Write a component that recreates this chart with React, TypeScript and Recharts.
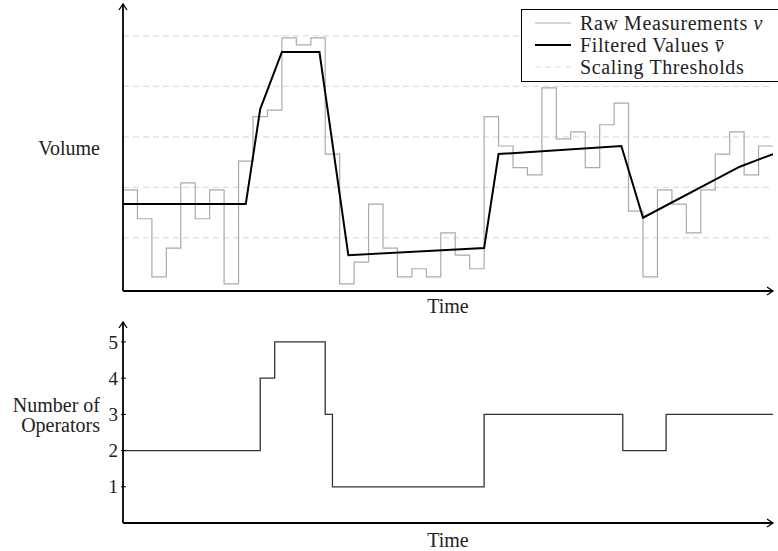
import { LineChart, Line, XAxis, YAxis, ReferenceLine, Legend, Label } from 'recharts'

// raw volume per sampling interval (45 intervals)
const rawVolume = [
  1.95, 1.38, 0.23, 0.8, 2.09, 1.38, 1.95, 0.09, 2.52, 3.4, 3.53, 4.96, 4.82, 4.96, 2.66,
  0.09, 0.52, 1.67, 0.8, 0.23, 0.39, 0.23, 1.1, 0.66, 0.39, 3.4, 2.82, 2.39, 2.25, 3.97,
  2.96, 3.1, 2.39, 3.24, 3.67, 1.53, 0.23, 1.95, 1.67, 1.1, 1.95, 2.66, 3.1, 2.25, 2.82,
]

// filtered value breakpoints
const filteredTimes = [0, 8.5, 9.5, 11, 13.6, 15.6, 25, 26, 34.5, 36, 42.7, 45]
const filteredValues = [1.67, 1.67, 3.55, 4.68, 4.68, 0.66, 0.8, 2.66, 2.82, 1.4, 2.41, 2.66]

const thresholds = [1, 2, 3, 4, 5]

// operator count changes
const operatorTimes = [0, 9.5, 10.5, 14, 14.5, 25, 34.6, 37.6, 45]
const operatorCounts = [2, 4, 5, 3, 1, 3, 2, 3, 3]
const operatorTicks = [1, 2, 3, 4, 5]

const END_TIME = 45

const rawData = [
  ...rawVolume.map((v, i) => ({ t: i, v })),
  { t: END_TIME, v: rawVolume[rawVolume.length - 1] },
]
const filteredData = filteredTimes.map((t, i) => ({ t, v: filteredValues[i] }))
const operatorData = operatorTimes.map((t, i) => ({ t, n: operatorCounts[i] }))

const FONT = '"Liberation Serif", "Times New Roman", serif'
const TEXT = '#222'

const legendItems = [
  { label: <>Raw Measurements <i>v</i></>, stroke: '#aaa', width: 1, dash: undefined },
  { label: <>Filtered Values <i>v&#772;</i></>, stroke: '#000', width: 2, dash: undefined },
  { label: <>Scaling Thresholds</>, stroke: '#ddd', width: 1.2, dash: '6 4' },
]

const LegendBox = () => (
  <div
    style={{
      border: '1px solid #000',
      background: '#fff',
      padding: '2px 0 3px 13px',
      fontFamily: FONT,
      fontSize: 20,
      color: TEXT,
      lineHeight: '22px',
      letterSpacing: 0.6,
      width: 243,
      boxSizing: 'content-box',
      textAlign: 'left',
    }}
  >
    {legendItems.map((item, i) => (
      <div key={i} style={{ display: 'flex', alignItems: 'center', whiteSpace: 'nowrap' }}>
        <svg width={36} height={10} style={{ marginRight: 9 }}>
          <line x1={0} y1={5} x2={36} y2={5} stroke={item.stroke} strokeWidth={item.width} strokeDasharray={item.dash} />
        </svg>
        <span>{item.label}</span>
      </div>
    ))}
  </div>
)

const ArrowDefs = ({ id }: { id: string }) => (
  <defs>
    <marker id={id} markerWidth={10} markerHeight={10} refX={8} refY={5} orient="auto-start-reverse" markerUnits="userSpaceOnUse">
      <path d="M2,1 L8,5 L2,9" fill="none" stroke="#000" strokeWidth={1.3} />
    </marker>
  </defs>
)

// tick mark crosses the axis, label to the left
const OperatorTick = (props: any) => {
  const { x, y, payload } = props
  return (
    <g>
      <line x1={x + 3} y1={y} x2={x + 8} y2={y} stroke="#000" strokeWidth={1} />
      <text x={x} y={y} dy="0.35em" textAnchor="end" fill={TEXT} fontSize={19} fontFamily={FONT}>
        {payload.value}
      </text>
    </g>
  )
}

const OperatorsLabel = (props: any) => {
  const vb = props.viewBox || { x: 0, y: 0, width: 0, height: 0 }
  const x = vb.x + vb.width - 23
  const cy = vb.y + vb.height / 2
  return (
    <text x={x} y={cy} textAnchor="end" fill={TEXT} fontSize={20} fontFamily={FONT}>
      <tspan x={x} y={cy - 10.5}>Number of</tspan>
      <tspan x={x} y={cy + 9.5}>Operators</tspan>
    </text>
  )
}

export default function App() {
  return (
    <div style={{ position: 'absolute', left: 0, top: 0, width: 778, height: 551, background: '#fff', fontFamily: FONT }}>
      <div style={{ position: 'absolute', left: 0, top: 0 }}>
        <LineChart width={778} height={320} margin={{ top: 4, right: 5, left: 0, bottom: 0 }}>
          <ArrowDefs id="arrowTop" />
          <XAxis
            type="number"
            dataKey="t"
            domain={[0, END_TIME]}
            allowDataOverflow
            tick={false}
            tickLine={false}
            height={29}
            axisLine={{ stroke: '#000', strokeWidth: 1.8, markerEnd: 'url(#arrowTop)' }}
          >
            <Label value="Time" position="insideTop" offset={8} fill={TEXT} fontSize={20} fontFamily={FONT} />
          </XAxis>
          <YAxis
            type="number"
            domain={[-0.05, 5.63]}
            allowDataOverflow
            tick={false}
            tickLine={false}
            width={123}
            axisLine={{ stroke: '#000', strokeWidth: 1.8, markerStart: 'url(#arrowTop)' }}
          >
            <Label value="Volume" position="insideRight" offset={23} fill={TEXT} fontSize={20} fontFamily={FONT} />
          </YAxis>
          {thresholds.map((y) => (
            <ReferenceLine key={y} y={y} stroke="#ddd" strokeWidth={1.2} strokeDasharray="6 4" />
          ))}
          <Line data={rawData} dataKey="v" type="stepAfter" stroke="#aaa" strokeWidth={1.2} dot={false} activeDot={false} isAnimationActive={false} />
          <Line data={filteredData} dataKey="v" type="linear" stroke="#000" strokeWidth={2} dot={false} activeDot={false} isAnimationActive={false} />
          <Legend
            verticalAlign="middle"
            align="center"
            layout="horizontal"
            content={() => <LegendBox />}
            wrapperStyle={{ top: 9, left: 521, width: 257 }}
          />
        </LineChart>
      </div>
      <div style={{ position: 'absolute', left: 0, top: 310 }}>
        <LineChart width={778} height={241} margin={{ top: 12, right: 5, left: 0, bottom: 0 }}>
          <ArrowDefs id="arrowBottom" />
          <XAxis
            type="number"
            dataKey="t"
            domain={[0, END_TIME]}
            allowDataOverflow
            tick={false}
            tickLine={false}
            height={28}
            axisLine={{ stroke: '#000', strokeWidth: 1.8, markerEnd: 'url(#arrowBottom)' }}
          >
            <Label value="Time" position="insideTop" offset={10} fill={TEXT} fontSize={20} fontFamily={FONT} />
          </XAxis>
          <YAxis
            type="number"
            domain={[0, 5.55]}
            allowDataOverflow
            ticks={operatorTicks}
            tickSize={3}
            tickMargin={2}
            tickLine={false}
            tick={OperatorTick}
            width={123}
            axisLine={{ stroke: '#000', strokeWidth: 1.8, markerStart: 'url(#arrowBottom)' }}
          >
            <Label content={OperatorsLabel} />
          </YAxis>
          <Line data={operatorData} dataKey="n" type="stepAfter" stroke="#333" strokeWidth={1.3} dot={false} activeDot={false} isAnimationActive={false} />
        </LineChart>
      </div>
    </div>
  )
}
